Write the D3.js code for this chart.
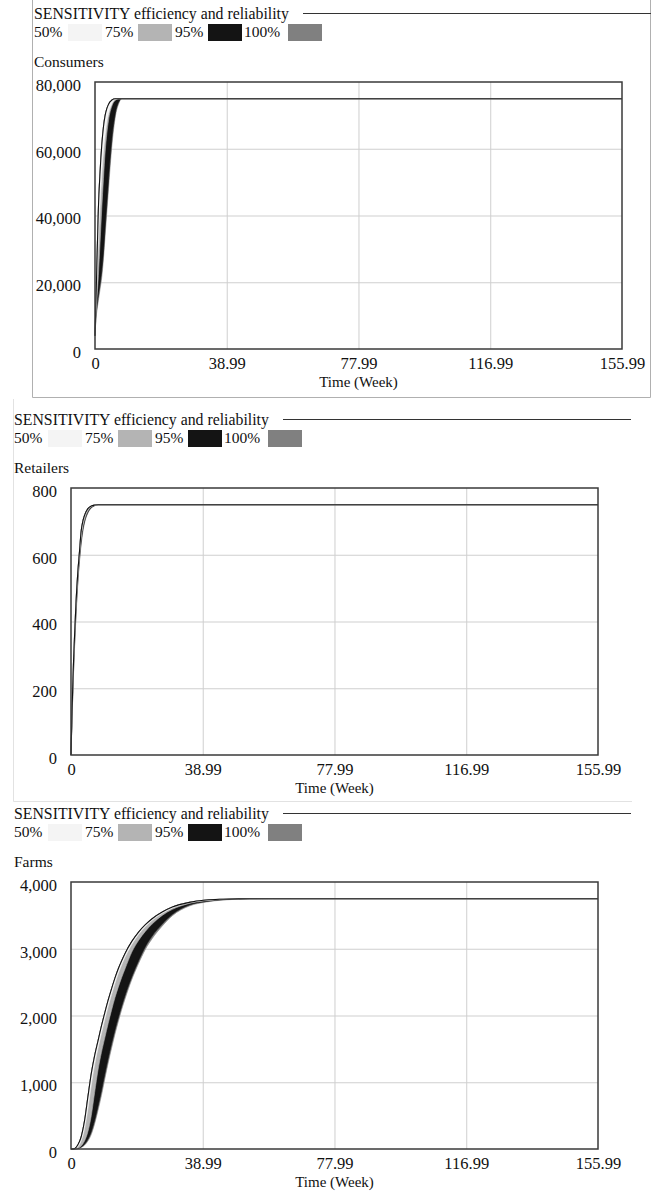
<!DOCTYPE html>
<html><head><meta charset="utf-8">
<script src="https://cdn.jsdelivr.net/npm/d3@7"></script>
<style>
body{margin:0;background:#fff}
svg{display:block}
text{font-family:"Liberation Serif","Times New Roman",serif;fill:#111}
</style>
</head><body>
<svg id="chart" width="654" height="1195"></svg>
<script>
// ---------- data ----------
const xTicks = [0, 38.99, 77.99, 116.99, 155.99];
const timeEnd = 155.99;
const legendTitle = "SENSITIVITY efficiency and reliability";
const bandLabels = ["50%", "75%", "95%", "100%"];
const axisTitle = "Time (Week)";

const consumersTicks = [0, 20000, 40000, 60000, 80000];
const consumersTime  = [0, 0.25, 0.5, 1, 1.5, 2, 2.5, 3, 3.5, 4, 5, 6, 7, 8, 155.99];
const consumersFast  = [4000, 13000, 23000, 42000, 53000, 61000, 66500, 70000, 72000, 73300, 74600, 75000, 75000, 75000, 75000];
const consumersLo50  = [4000, 11000, 18000, 32000, 43000, 52000, 59000, 64000, 68000, 70500, 73500, 74800, 75000, 75000, 75000];
const consumersLo75  = [4000, 10000, 14000, 22000, 32000, 42000, 51000, 59000, 64500, 68500, 72800, 74500, 75000, 75000, 75000];
const consumersLo95  = [4000, 9000, 12000, 16000, 19500, 23500, 29000, 36500, 43500, 50500, 63000, 70500, 74000, 75000, 75000];
const consumersLo100 = [4000, 8500, 11000, 14500, 18000, 21500, 27000, 34000, 41000, 48000, 61000, 69500, 73500, 75000, 75000];

const retailersTicks = [0, 200, 400, 600, 800];
const retailersTime  = [0, 0.25, 0.5, 0.75, 1, 1.5, 2, 2.5, 3, 3.5, 4, 5, 6, 7, 8, 155.99];
const retailersFast  = [0, 108, 200, 280, 345, 460, 545, 608, 670, 700, 718, 738, 746, 749, 750, 750];
const retailersLo50  = [0, 104, 194, 272, 338, 452, 537, 602, 660, 693, 713, 735, 745, 749, 750, 750];
const retailersLo75  = [0, 100, 188, 265, 330, 445, 530, 596, 650, 684, 705, 731, 743, 748, 750, 750];
const retailersLo95  = [0, 93, 175, 252, 318, 430, 518, 585, 638, 675, 699, 727, 741, 747, 750, 750];
const retailersLo100 = [0, 90, 170, 245, 310, 420, 510, 578, 630, 668, 695, 725, 740, 747, 750, 750];

const farmsTicks = [0, 1000, 2000, 3000, 4000];
const farmsTime  = [0, 1, 2, 3, 4, 5, 6, 7, 8, 9, 10, 11, 12, 13, 14, 15, 16, 18, 20, 22, 24, 27, 30, 35, 40, 45, 50, 55, 60, 65, 155.99];
const farmsFast  = [0, 5, 60, 180, 420, 780, 1130, 1400, 1620, 1840, 2040, 2230, 2400, 2560, 2700, 2820, 2930, 3110, 3250, 3360, 3450, 3550, 3625, 3695, 3730, 3742, 3747, 3749, 3750, 3750, 3750];
const farmsLo50  = [0, 2, 30, 120, 300, 600, 955, 1265, 1510, 1730, 1940, 2135, 2315, 2480, 2630, 2760, 2875, 3065, 3215, 3330, 3425, 3530, 3610, 3690, 3727, 3741, 3746, 3749, 3750, 3750, 3750];
const farmsLo75  = [0, 0, 10, 45, 120, 260, 500, 850, 1185, 1445, 1665, 1880, 2080, 2265, 2425, 2570, 2700, 2950, 3125, 3260, 3370, 3500, 3590, 3678, 3720, 3738, 3745, 3748, 3750, 3750, 3750];
const farmsLo95  = [0, 0, 6, 30, 70, 145, 260, 430, 640, 870, 1120, 1355, 1575, 1780, 1965, 2140, 2300, 2580, 2820, 3030, 3190, 3370, 3515, 3655, 3708, 3735, 3745, 3748, 3750, 3750, 3750];
const farmsLo100 = [0, 0, 4, 22, 58, 120, 220, 380, 580, 800, 1050, 1290, 1510, 1720, 1910, 2090, 2250, 2540, 2780, 2990, 3150, 3340, 3495, 3640, 3700, 3730, 3742, 3747, 3750, 3750, 3750];

// ---------- styles / layout ----------
const bandColors = ["#f4f4f4", "#b4b4b4", "#141414", "#808080"];
const plotW = 527, plotH = 267;

const panels = [
  {name: "Consumers", time: consumersTime, fast: consumersFast,
   lows: [consumersLo50, consumersLo75, consumersLo95, consumersLo100],
   ticks: consumersTicks, left: 95, top: 82, lx: 34},
  {name: "Retailers", time: retailersTime, fast: retailersFast,
   lows: [retailersLo50, retailersLo75, retailersLo95, retailersLo100],
   ticks: retailersTicks, left: 71, top: 488, lx: 14},
  {name: "Farms", time: farmsTime, fast: farmsFast,
   lows: [farmsLo50, farmsLo75, farmsLo95, farmsLo100],
   ticks: farmsTicks, left: 71, top: 882, lx: 14}
];

const svg = d3.select("#chart");

// outer frames (light)
svg.append("path").attr("d", "M32.5,0 V397.5 H650.5 V0").attr("fill", "none").attr("stroke", "#b0b0b0");
svg.append("path").attr("d", "M13.5,399 V801.5 H632").attr("fill", "none").attr("stroke", "#e2e2e2");

panels.forEach(p => {
  const g = svg.append("g");
  const x = d3.scaleLinear().domain([0, timeEnd]).range([p.left, p.left + plotW]);
  const y = d3.scaleLinear().domain([0, d3.max(p.ticks)]).range([p.top + plotH, p.top]);

  // legend
  const lx = p.lx, ty = p.top - 63, ry = p.top - 45;
  g.append("text").attr("x", lx).attr("y", ty).attr("font-size", 15.8).text(legendTitle);
  g.append("line").attr("x1", lx + 269).attr("x2", lx + 617).attr("y1", p.top - 68.5).attr("y2", p.top - 68.5)
    .attr("stroke", "#333").attr("stroke-width", 1);
  const textOff = [0, 71, 141, 210];
  const swOff = [34, 104, 174, 254];
  bandLabels.forEach((lab, i) => {
    g.append("text").attr("x", lx + textOff[i]).attr("y", ry).attr("font-size", 15.5).text(lab);
    g.append("rect").attr("x", lx + swOff[i]).attr("y", p.top - 58).attr("width", 34).attr("height", 17)
      .attr("fill", bandColors[i]);
  });
  g.append("text").attr("x", lx).attr("y", p.top - 15).attr("font-size", 15.5).text(p.name);

  // grid
  g.append("g").attr("transform", `translate(0,${p.top + plotH})`)
    .call(d3.axisBottom(x).tickValues(xTicks.slice(1, -1)).tickSize(-plotH).tickFormat(""))
    .call(s => s.select(".domain").remove())
    .call(s => s.selectAll("line").attr("stroke", "#cfcfcf"));
  g.append("g").attr("transform", `translate(${p.left},0)`)
    .call(d3.axisLeft(y).tickValues(p.ticks.slice(1, -1)).tickSize(-plotW).tickFormat(""))
    .call(s => s.select(".domain").remove())
    .call(s => s.selectAll("line").attr("stroke", "#cfcfcf"));

  // bands
  const data = p.time.map((t, i) => ({t, f: p.fast[i], lo: p.lows.map(a => a[i])}));
  const order = [3, 2, 1, 0];
  order.forEach(k => {
    const area = d3.area().curve(d3.curveMonotoneX)
      .x(d => x(d.t)).y0(d => y(d.lo[k])).y1(d => y(d.f));
    g.append("path").datum(data).attr("d", area).attr("fill", bandColors[k])
      .attr("stroke", bandColors[k]).attr("stroke-width", 0.6);
  });
  const line = d3.line().curve(d3.curveMonotoneX).x(d => x(d.t)).y(d => y(d.f));
  g.append("path").datum(data).attr("d", line).attr("fill", "none")
    .attr("stroke", "#111").attr("stroke-width", 1.1);

  // frame
  g.append("rect").attr("x", p.left).attr("y", p.top).attr("width", plotW).attr("height", plotH)
    .attr("fill", "none").attr("stroke", "#3a3a3a").attr("stroke-width", 1.5);

  // axes labels
  g.append("g").attr("transform", `translate(${p.left},0)`)
    .call(d3.axisLeft(y).tickValues(p.ticks).tickSize(0).tickPadding(14).tickFormat(d3.format(",")))
    .call(s => s.select(".domain").remove())
    .call(s => s.selectAll("text").attr("font-size", 16.5).attr("font-family", "Liberation Serif").attr("fill", "#111").attr("dy", "0.5em"));
  g.append("g").attr("transform", `translate(0,${p.top + plotH})`)
    .call(d3.axisBottom(x).tickValues(xTicks).tickSize(0).tickPadding(8).tickFormat(d => d === 0 ? "0" : d3.format(".2f")(d)))
    .call(s => s.select(".domain").remove())
    .call(s => s.selectAll("text").attr("font-size", 16.5).attr("font-family", "Liberation Serif").attr("fill", "#111"));
  g.append("text").attr("x", p.left + plotW / 2).attr("y", p.top + plotH + 38).attr("text-anchor", "middle")
    .attr("font-size", 15).text(axisTitle);
});
</script>
</body></html>
